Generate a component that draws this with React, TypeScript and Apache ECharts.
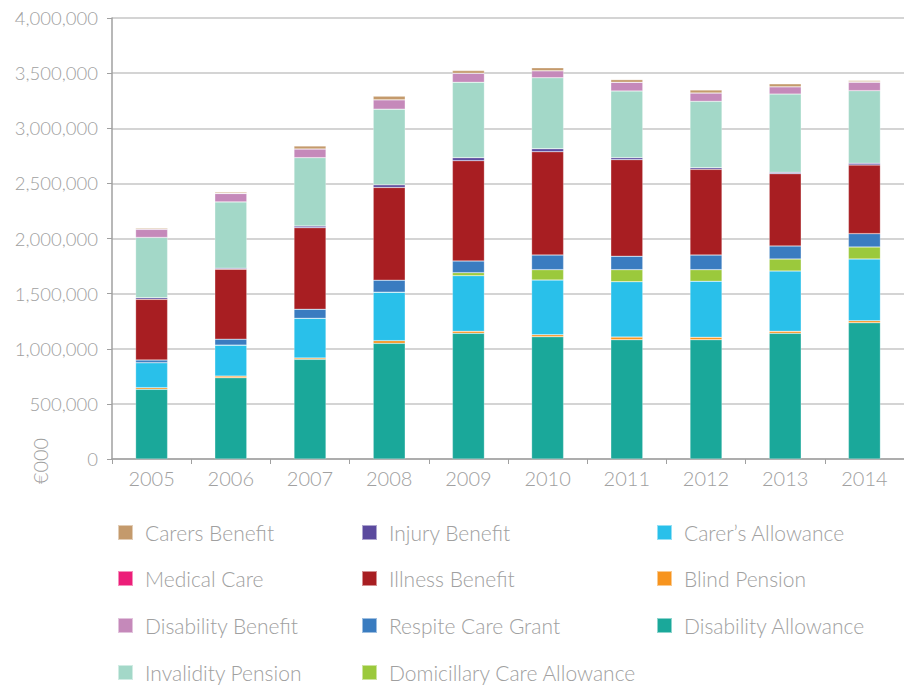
import React, { useEffect, useRef } from "react";
import * as echarts from "echarts";

const years = ["2005", "2006", "2007", "2008", "2009", "2010", "2011", "2012", "2013", "2014"];

const disabilityAllowance = [632000, 737000, 904000, 1049000, 1140000, 1109000, 1082000, 1082000, 1140000, 1236000];
const blindPension = [15000, 15000, 12000, 24000, 18000, 18000, 24000, 22000, 18000, 18000];
const carersAllowance = [227000, 281000, 360000, 440000, 505000, 496000, 502000, 508000, 547000, 560000];
const domicillaryCare = [0, 0, 0, 0, 27000, 94000, 109000, 105000, 109000, 109000];
const respiteCareGrant = [24000, 54000, 82000, 109000, 106000, 133000, 122000, 133000, 118000, 121000];
const illnessBenefit = [550000, 635000, 740000, 841000, 910000, 937000, 876000, 777000, 656000, 623000];
const injuryBenefit = [15000, 9000, 15000, 24000, 27000, 27000, 18000, 15000, 12000, 15000];
const invalidityPension = [547000, 601000, 620000, 686000, 684000, 644000, 605000, 602000, 710000, 659000];
const disabilityBenefit = [73000, 76000, 79000, 85000, 82000, 63000, 79000, 76000, 66000, 76000];
const medicalCare = [4000, 3000, 0, 0, 0, 0, 0, 0, 0, 5000];
const carersBenefit = [8000, 10000, 27000, 33000, 24000, 27000, 24000, 27000, 27000, 10000];

const yTicks = [0, 500000, 1000000, 1500000, 2000000, 2500000, 3000000, 3500000, 4000000];

// stack order bottom -> top
const seriesDefs = [
  { name: "Disability Allowance", data: disabilityAllowance, color: "#1AA89A" },
  { name: "Blind Pension", data: blindPension, color: "#F7941E" },
  { name: "Carer\u2019s Allowance", data: carersAllowance, color: "#29C0EA" },
  { name: "Domicillary Care Allowance", data: domicillaryCare, color: "#9BC93C" },
  { name: "Respite Care Grant", data: respiteCareGrant, color: "#3A7CC0" },
  { name: "Illness Benefit", data: illnessBenefit, color: "#A81E22" },
  { name: "Injury Benefit", data: injuryBenefit, color: "#5B4A9E" },
  { name: "Invalidity Pension", data: invalidityPension, color: "#A3D8C8" },
  { name: "Disability Benefit", data: disabilityBenefit, color: "#C589BA" },
  { name: "Medical Care", data: medicalCare, color: "#EC1E79" },
  { name: "Carers Benefit", data: carersBenefit, color: "#C49A6C" },
];

// legend layout (columns)
const legendColumns = [
  ["Carers Benefit", "Medical Care", "Disability Benefit", "Invalidity Pension"],
  ["Injury Benefit", "Illness Benefit", "Respite Care Grant", "Domicillary Care Allowance"],
  ["Carer\u2019s Allowance", "Blind Pension", "Disability Allowance"],
];

const FONT = "Lato, 'Open Sans', sans-serif";
const GRAY = "#a0a0a0";

export default function App() {
  const ref = useRef<HTMLDivElement>(null);

  useEffect(() => {
    document.body.style.margin = "0";
    const chart = echarts.init(ref.current!, null, { renderer: "svg" });

    const colX = [117, 361, 656];
    const rowY = [522, 568, 615, 662];
    const legends: any[] = [];
    legendColumns.forEach((col, ci) => {
      col.forEach((name, ri) => {
        legends.push({
          data: [name],
          left: colX[ci],
          top: rowY[ri],
          padding: 0,
          itemWidth: 15,
          itemHeight: 15,
          icon: "rect",
          textStyle: {
            fontFamily: FONT,
            fontWeight: 300,
            fontSize: 21,
            color: GRAY,
            padding: [0, 0, 0, 7],
          },
        });
      });
    });

    chart.setOption({
      animation: false,
      backgroundColor: "#ffffff",
      grid: { left: 112, top: 18, width: 797, height: 441, containLabel: false },
      legend: legends,
      xAxis: {
        type: "category",
        data: years,
        axisLine: { lineStyle: { color: "#a0a0a0", width: 1.5 } },
        axisTick: { show: true, length: 5, lineStyle: { color: "#a0a0a0" } },
        axisLabel: { fontFamily: FONT, fontWeight: 300, fontSize: 20, color: GRAY, margin: 9 },
      },
      yAxis: {
        type: "value",
        min: 0,
        max: 4000000,
        interval: 500000,
        axisLine: { show: true, lineStyle: { color: "#a0a0a0", width: 1.5 } },
        axisTick: { show: true, length: 5, lineStyle: { color: "#a0a0a0" } },
        splitLine: { lineStyle: { color: "#c6c6c6", width: 1.5 } },
        axisLabel: {
          fontFamily: FONT,
          fontWeight: 300,
          fontSize: 18.5,
          color: GRAY,
          margin: 14,
          formatter: (v: number) => (yTicks.includes(v) ? v.toLocaleString("en-US") : ""),
        },
      },
      graphic: [
        {
          type: "text",
          x: 40,
          y: 461,
          rotation: Math.PI / 2,
          style: {
            text: "\u20AC000",
            fontFamily: FONT,
            fontWeight: 300,
            fontSize: 20,
            fill: GRAY,
            align: "center",
            verticalAlign: "middle",
          },
        },
      ],
      series: seriesDefs.map((s) => ({
        name: s.name,
        type: "bar",
        stack: "total",
        barWidth: 32,
        data: s.data,
        itemStyle: { color: s.color, borderColor: "rgba(255,255,255,0.5)", borderWidth: 0.5 },
        emphasis: { disabled: true },
      })),
    });

    return () => chart.dispose();
  }, []);

  return <div ref={ref} style={{ width: 904, height: 688 }} />;
}
